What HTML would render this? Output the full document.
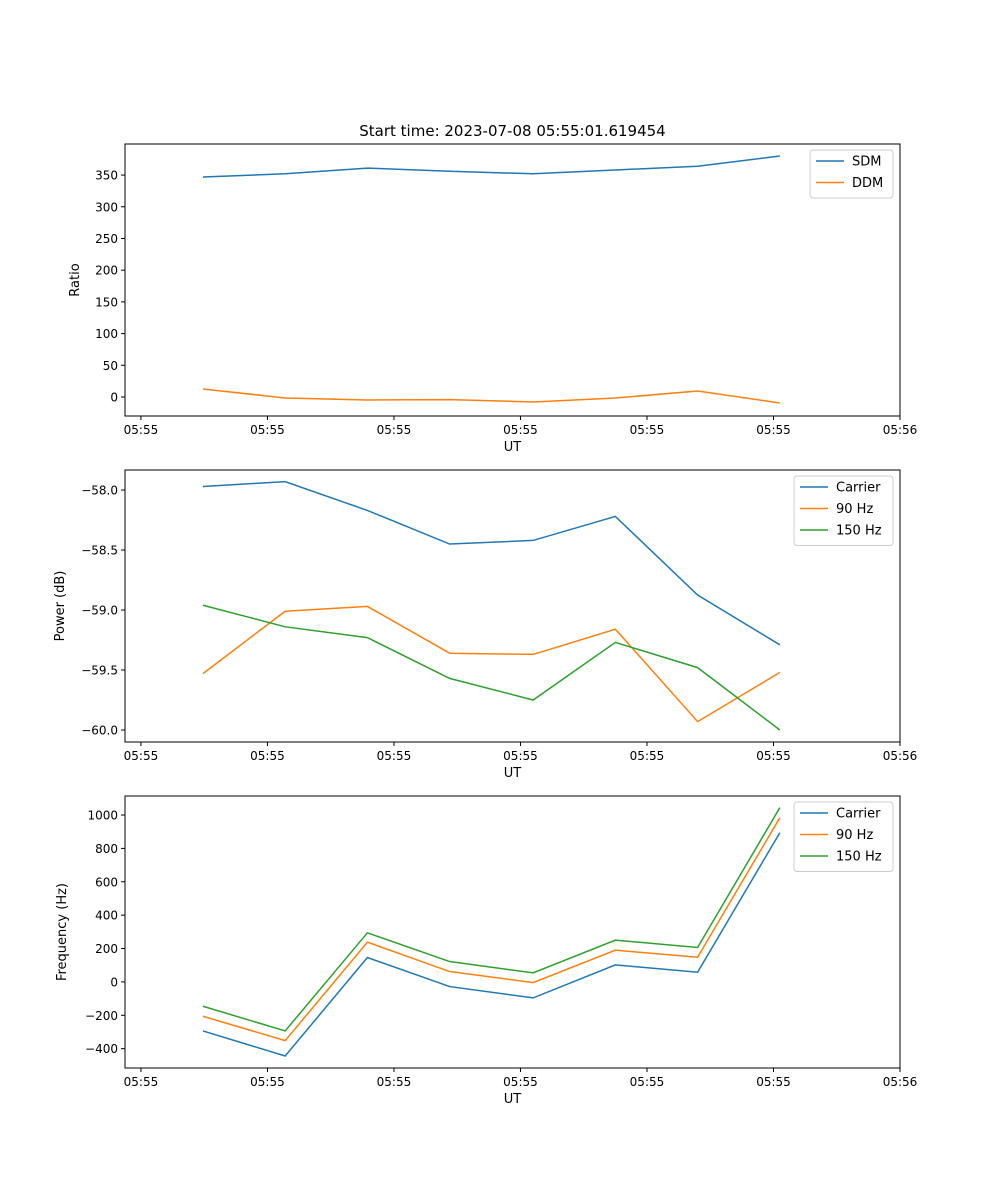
<!DOCTYPE html>
<html><head><meta charset="utf-8"><style>
body{margin:0;background:#fff}
svg{display:block;font-family:"DejaVu Sans","Liberation Sans",sans-serif}
</style></head><body>
<svg id="fig" width="1000" height="1200"></svg>
<script>
const times=[0.49,1.14,1.79,2.44,3.10,3.75,4.40,5.05];
const xTicks=[0,1,2,3,4,5,6];
const xTickLabels=["05:55","05:55","05:55","05:55","05:55","05:55","05:56"];
const sdm=[347,352,361,356,352,358,364,380];
const ddm=[12.6,-1.6,-4.7,-4.2,-7.9,-1.6,9.5,-9.5];
const ratioTicks=[0,50,100,150,200,250,300,350];
const pCarrier=[-57.97,-57.93,-58.17,-58.45,-58.42,-58.22,-58.875,-59.29];
const p90=[-59.53,-59.01,-58.97,-59.36,-59.37,-59.16,-59.93,-59.52];
const p150=[-58.96,-59.14,-59.23,-59.57,-59.75,-59.27,-59.48,-60.0];
const powerTicks=[-58.0,-58.5,-59.0,-59.5,-60.0];
const fCarrier=[-294,-444,146,-28,-96,102,58,894];
const f90=[-206,-352,238,62,-4,190,148,984];
const f150=[-146,-294,294,122,54,250,206,1044];
const freqTicks=[-400,-200,0,200,400,600,800,1000];

const NS="http://www.w3.org/2000/svg";
const svg=document.getElementById('fig');
function mk(tag,attrs,parent){const e=document.createElementNS(NS,tag);for(const k in attrs)e.setAttribute(k,attrs[k]);(parent||svg).appendChild(e);return e;}
const L=125,R=900;
function xS(t){return L+(t+0.126)/6.126*(R-L);}
const C={blue:"#1f77b4",orange:"#ff7f0e",green:"#2ca02c"};

function panel(opts){
  const {top,bottom,ymin,ymax,ticks,fmt,ylabel,ylabelX,series,legend,name}=opts;
  const g=mk('g',{});
  
  
  const yS=v=>bottom-(v-ymin)/(ymax-ymin)*(bottom-top);
  series.forEach(s=>{
    const pts=s.vals.map((v,i)=>xS(times[i]).toFixed(2)+","+yS(v).toFixed(2)).join(" ");
    const pl=mk('polyline',{points:pts,fill:"none",stroke:s.color,"stroke-width":1.5},g);
    
    
  });
  const fr=mk('rect',{x:L,y:top,width:R-L,height:bottom-top,fill:"none",stroke:"#000","stroke-width":1},g);
  
  
  xTicks.forEach((t,i)=>{
    const x=xS(t);
    mk('line',{x1:x,x2:x,y1:bottom,y2:bottom+4,stroke:"#000"},g);
    const tx=mk('text',{x:x,y:bottom+18,"font-size":12,"text-anchor":"middle"},g);
    tx.textContent=xTickLabels[i];
    
    
  });
  ticks.forEach(v=>{
    const y=yS(v);
    mk('line',{x1:L-4,x2:L,y1:y,y2:y,stroke:"#000"},g);
    const tx=mk('text',{x:L-7,y:y+4.5,"font-size":12,"text-anchor":"end"},g);
    tx.textContent=fmt(v);
    
    
  });
  const xl=mk('text',{x:(L+R)/2,y:bottom+35,"font-size":13,"text-anchor":"middle"},g);
  xl.textContent="UT";
  
  
  const yl=mk('text',{x:ylabelX,y:(top+bottom)/2,"font-size":13,"text-anchor":"middle",transform:`rotate(-90 ${ylabelX} ${(top+bottom)/2})`},g);
  yl.textContent=ylabel;
  
  
  const lg=mk('g',{},g);
  
  
  mk('rect',{x:legend.x,y:top+6,width:R-7-legend.x,height:series.length*21.5+5,rx:3,fill:"#fff",stroke:"#ccc"},lg);
  series.forEach((s,i)=>{
    const y=top+17+i*21.5;
    mk('line',{x1:legend.x+6,x2:legend.x+34,y1:y,y2:y,stroke:s.color,"stroke-width":1.5},lg);
    const t=mk('text',{x:legend.x+42,y:y+4.5,"font-size":13},lg);
    t.textContent=s.label;
    
    
  });
}

const title=mk('text',{x:512.5,y:136,"font-size":15,"text-anchor":"middle"});
title.textContent="Start time: 2023-07-08 05:55:01.619454";



panel({name:'ratio-panel',top:144,bottom:416,ymin:-30,ymax:399,ticks:ratioTicks,fmt:v=>String(v),ylabel:"Ratio",ylabelX:79,
  legend:{x:810},series:[{id:'sdm',label:"SDM",color:C.blue,vals:sdm},{id:'ddm',label:"DDM",color:C.orange,vals:ddm}]});
panel({name:'power-panel',top:470,bottom:742,ymin:-60.1,ymax:-57.833,ticks:powerTicks,fmt:v=>"\u2212"+Math.abs(v).toFixed(1),ylabel:"Power (dB)",ylabelX:64,
  legend:{x:794},series:[{id:'carrier-power',label:"Carrier",color:C.blue,vals:pCarrier},{id:'90hz-power',label:"90 Hz",color:C.orange,vals:p90},{id:'150hz-power',label:"150 Hz",color:C.green,vals:p150}]});
panel({name:'frequency-panel',top:796,bottom:1068,ymin:-516,ymax:1114,ticks:freqTicks,fmt:v=>v<0?"\u2212"+Math.abs(v):String(v),ylabel:"Frequency (Hz)",ylabelX:66,
  legend:{x:794},series:[{id:'carrier-freq',label:"Carrier",color:C.blue,vals:fCarrier},{id:'90hz-freq',label:"90 Hz",color:C.orange,vals:f90},{id:'150hz-freq',label:"150 Hz",color:C.green,vals:f150}]});
</script>
</body></html>
